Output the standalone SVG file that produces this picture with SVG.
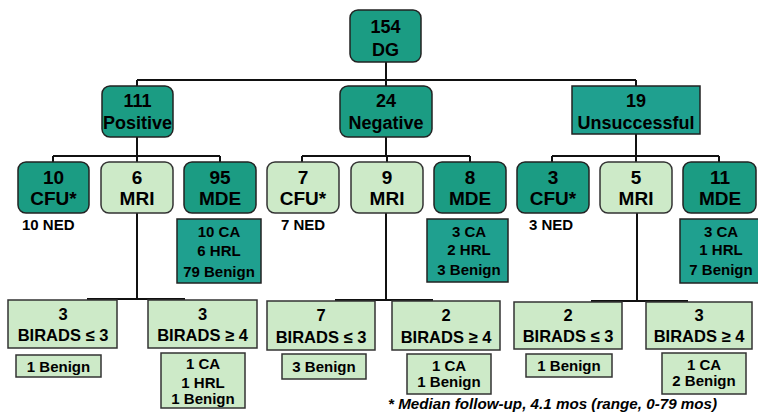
<svg xmlns="http://www.w3.org/2000/svg" width="758" height="416" viewBox="0 0 758 416">
<style>
text{font-family:"Liberation Sans",Arial,sans-serif;font-weight:bold;fill:#000;text-anchor:middle}
.dk{fill:#1b9c83;stroke:#222;stroke-width:1.5}
.dk2{fill:#1fa08f;stroke:#222;stroke-width:1.5}
.lt{fill:#cdeac8;stroke:#333;stroke-width:1.5}
.n1{font-size:18px}
.n3{font-size:19px}
.s{font-size:15px}
.b{font-size:16.5px}
.st{text-anchor:start}
.con{stroke:#111;stroke-width:2;fill:none}
</style>
<g id="connectors" class="con">
<path d="M386 62V86M137 80H636M137 80V86M636 80V86"/>
<path d="M137 137V156M53 156H220M53 156V162M137 156V162M220 156V162"/>
<path d="M386 137V156M302 156H470M302 156V162M387 156V162M470 156V162"/>
<path d="M636 134V156M552 156H719M552 156V162M636 156V162M719 156V162"/>
<path d="M137 213V299M87 299H185"/>
<path d="M386 213V300M335 300H433"/>
<path d="M637 213V301M591 301H688"/>
</g>
<g id="n-dg"><rect class="dk" x="350" y="10" width="71" height="52" rx="8"/><text class="n1" x="385.5" y="33">154</text><text class="n1" x="385.5" y="56">DG</text></g>
<g id="n-positive"><rect class="dk" x="102" y="86" width="71" height="51" rx="8"/><text class="n1" x="137.5" y="107">111</text><text class="n1" x="137.5" y="129">Positive</text></g>
<g id="n-negative"><rect class="dk" x="340" y="86" width="92" height="51" rx="8"/><text class="n1" x="386" y="107">24</text><text class="n1" x="386" y="129">Negative</text></g>
<g id="n-unsuccessful"><rect class="dk2" x="572" y="86" width="128" height="48"/><text class="n1" x="636" y="107">19</text><text class="n1" x="636" y="129">Unsuccessful</text></g>

<g id="p-cfu"><rect class="dk" x="18" y="162" width="71" height="51" rx="8"/><text class="n3" x="53.5" y="184">10</text><text class="n3" x="53.5" y="205">CFU*</text><text class="s st" x="22" y="230">10 NED</text></g>
<g id="p-mri"><rect class="lt" x="101" y="162" width="72" height="51" rx="8"/><text class="n3" x="137" y="184">6</text><text class="n3" x="137" y="205">MRI</text></g>
<g id="p-mde"><rect class="dk" x="184" y="162" width="72" height="51" rx="8"/><text class="n3" x="220" y="184">95</text><text class="n3" x="220" y="205">MDE</text></g>
<g id="p-mde-res"><rect class="dk2" x="177" y="219" width="84" height="64"/><text class="s" x="219" y="237">10 CA</text><text class="s" x="219" y="256">6 HRL</text><text class="s" x="219" y="277">79 Benign</text></g>

<g id="g-cfu"><rect class="lt" x="267" y="162" width="72" height="51" rx="8"/><text class="n3" x="303" y="184">7</text><text class="n3" x="303" y="205">CFU*</text><text class="s st" x="281" y="230">7 NED</text></g>
<g id="g-mri"><rect class="lt" x="351" y="162" width="72" height="51" rx="8"/><text class="n3" x="387" y="184">9</text><text class="n3" x="387" y="205">MRI</text></g>
<g id="g-mde"><rect class="dk" x="434" y="162" width="72" height="51" rx="8"/><text class="n3" x="470" y="184">8</text><text class="n3" x="470" y="205">MDE</text></g>
<g id="g-mde-res"><rect class="dk2" x="427" y="219" width="81" height="63"/><text class="s" x="469" y="237">3 CA</text><text class="s" x="469" y="255">2 HRL</text><text class="s" x="469" y="275">3 Benign</text></g>

<g id="u-cfu"><rect class="dk" x="517" y="162" width="72" height="51" rx="8"/><text class="n3" x="553" y="184">3</text><text class="n3" x="553" y="205">CFU*</text><text class="s st" x="529" y="230">3 NED</text></g>
<g id="u-mri"><rect class="lt" x="600" y="162" width="72" height="51" rx="8"/><text class="n3" x="636" y="184">5</text><text class="n3" x="636" y="205">MRI</text></g>
<g id="u-mde"><rect class="dk" x="683" y="162" width="73" height="51" rx="8"/><text class="n3" x="720" y="184">11</text><text class="n3" x="720" y="205">MDE</text></g>
<g id="u-mde-res"><rect class="dk2" x="680" y="219" width="82" height="64"/><text class="s" x="721" y="237">3 CA</text><text class="s" x="721" y="255">1 HRL</text><text class="s" x="721" y="275">7 Benign</text></g>

<g id="p-bir-lo"><rect class="lt" x="8" y="300" width="109" height="48"/><text class="b" x="63" y="320">3</text><text class="b" x="63" y="341">BIRADS ≤ 3</text></g>
<g id="p-bir-lo-res"><rect class="lt" x="16" y="355" width="85" height="22"/><text class="s" x="58.5" y="372">1 Benign</text></g>
<g id="p-bir-hi"><rect class="lt" x="148" y="300" width="109" height="48"/><text class="b" x="202.5" y="320">3</text><text class="b" x="202.5" y="341">BIRADS ≥ 4</text></g>
<g id="p-bir-hi-res"><rect class="lt" x="161" y="353" width="84" height="55"/><text class="s" x="203" y="369">1 CA</text><text class="s" x="203" y="388">1 HRL</text><text class="s" x="203" y="404">1 Benign</text></g>

<g id="g-bir-lo"><rect class="lt" x="267" y="301" width="108" height="49"/><text class="b" x="321" y="321">7</text><text class="b" x="321" y="343">BIRADS ≤ 3</text></g>
<g id="g-bir-lo-res"><rect class="lt" x="282" y="354" width="84" height="25"/><text class="s" x="324" y="372">3 Benign</text></g>
<g id="g-bir-hi"><rect class="lt" x="392" y="301" width="108" height="49"/><text class="b" x="446" y="321">2</text><text class="b" x="446" y="343">BIRADS ≥ 4</text></g>
<g id="g-bir-hi-res"><rect class="lt" x="407" y="354" width="84" height="40"/><text class="s" x="449" y="371">1 CA</text><text class="s" x="449" y="387">1 Benign</text></g>

<g id="u-bir-lo"><rect class="lt" x="514" y="302" width="108" height="47"/><text class="b" x="568" y="321">2</text><text class="b" x="568" y="342">BIRADS ≤ 3</text></g>
<g id="u-bir-lo-res"><rect class="lt" x="526" y="354" width="86" height="23"/><text class="s" x="569" y="371">1 Benign</text></g>
<g id="u-bir-hi"><rect class="lt" x="646" y="302" width="106" height="47"/><text class="b" x="699" y="321">3</text><text class="b" x="699" y="342">BIRADS ≥ 4</text></g>
<g id="u-bir-hi-res"><rect class="lt" x="662" y="353" width="84" height="41"/><text class="s" x="704" y="370">1 CA</text><text class="s" x="704" y="386">2 Benign</text></g>

<text x="388" y="409" class="st" style="font-size:15.2px;font-style:italic">* Median follow-up, 4.1 mos (range, 0-79 mos)</text>
</svg>
